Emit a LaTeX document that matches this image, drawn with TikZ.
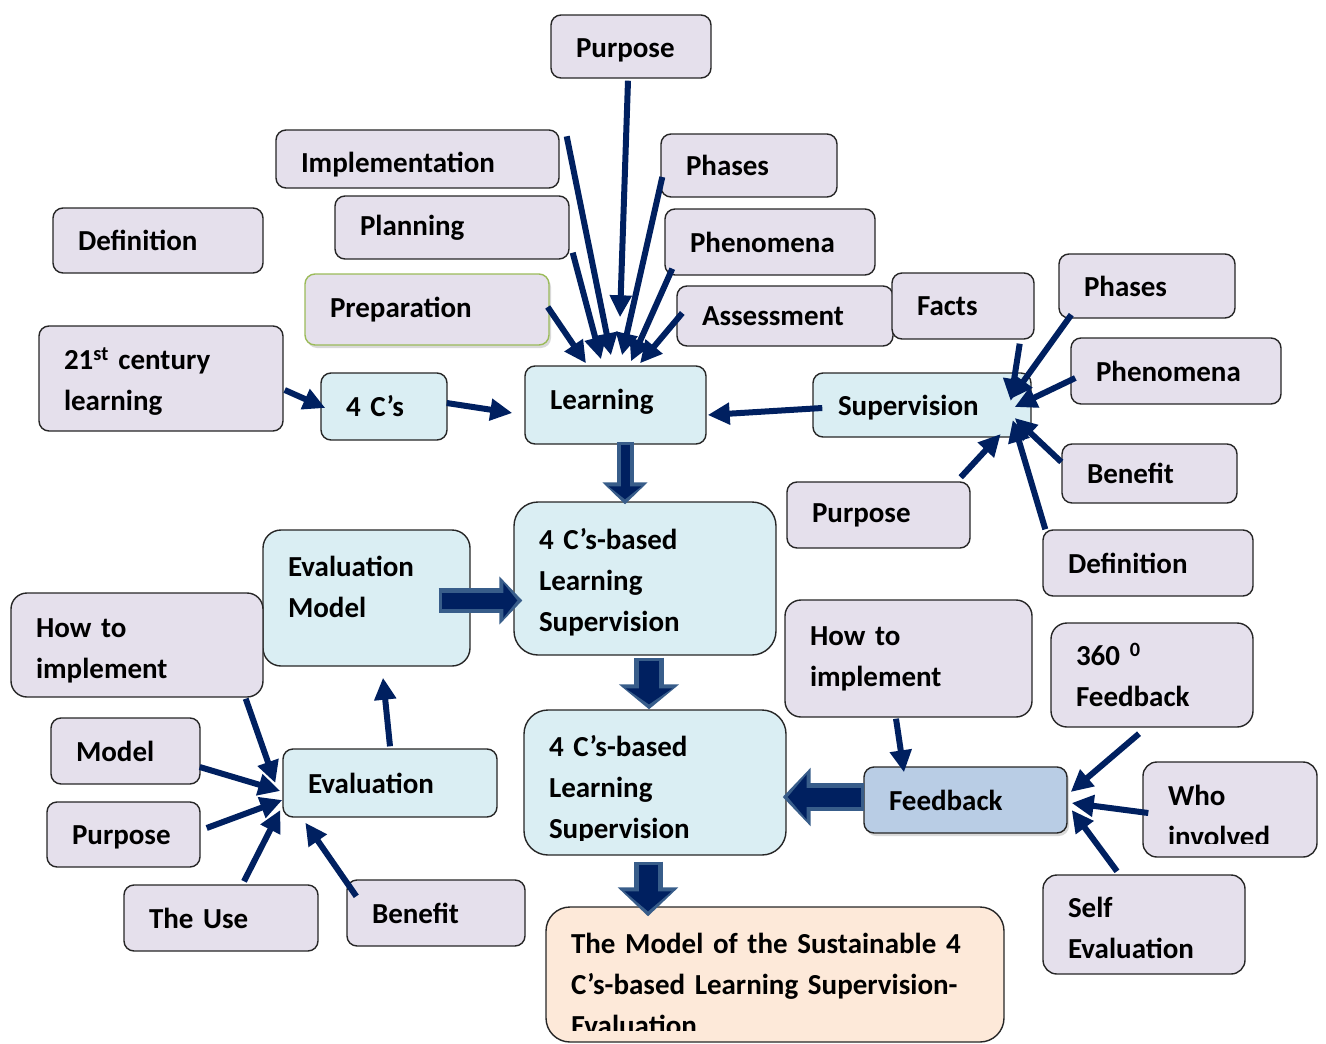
\documentclass[tikz,border=0pt]{standalone}
\usepackage{fontspec}
\setmainfont{Carlito}[WordSpace=0.75]
\usetikzlibrary{arrows.meta,calc,shadows}
\definecolor{navyb}{HTML}{002060}
\definecolor{steelb}{HTML}{385D8A}
\definecolor{lilac}{HTML}{E5E0EC}
\definecolor{paleblue}{HTML}{DAEEF3}
\definecolor{fbblue}{HTML}{B9CDE5}
\definecolor{peach}{HTML}{FDE9D9}
\definecolor{leaf}{HTML}{9BBB59}
\begin{document}
\begin{tikzpicture}[x=1pt, y=-1pt,
        txt/.style = {align=left, inner xsep=25pt, inner ysep=0pt, font=\fontsize{29}{41}\selectfont\bfseries},
        tbox/.style = {txt, draw=black!85, line width=1.4pt, rounded corners=10pt},
        lbox/.style = {tbox, fill=lilac},
        cbox/.style = {tbox, fill=paleblue},
        arr/.style = {draw=navyb, line width=6pt, -{Triangle[length=22pt,width=21pt]}},
        blk/.style n args = {6}{preaction={draw=steelb, line width=#1, shorten <=-3pt, shorten >=0pt, -{Triangle[length=#3,width=#4]}},
            draw=navyb, line width=#2, shorten >=5pt, -{Triangle[length=#5,width=#6]}}
    ]
    \useasboundingbox (0,0) rectangle (1326,1044);

    % top cluster
    \node[lbox, text width=110pt, minimum height=63pt] (purp1) at (631,46.5) {};
    \node[txt, text width=110pt, yshift=-4pt] (purp1txt) at (purp1) {Purpose};
    \node[lbox, text width=233pt, minimum height=58pt] (impl) at (417.5,159) {};
    \node[txt, text width=233pt, yshift=-6pt] (impltxt) at (impl) {Implementation};
    \node[lbox, text width=126pt, minimum height=63pt] (phas1) at (749,165.5) {Phases};
    \node[lbox, text width=160pt, minimum height=65pt] (def1) at (158,240.5) {Definition};
    \node[lbox, text width=184pt, minimum height=63pt] (plan) at (452,227.5) {Planning};
    \node[lbox, text width=160pt, minimum height=66pt] (phen1) at (770,242) {Phenomena};
    \node[lbox, draw=leaf, text width=194pt, minimum height=71pt,
        drop shadow={opacity=0.3, shadow xshift=2pt, shadow yshift=-3pt}] (prep) at (427,309.5) {Preparation};
    \node[lbox, text width=166pt, minimum height=60pt] (asse) at (785,316) {Assessment};
    \node[lbox, text width=92pt, minimum height=66pt] (facts) at (963,306) {Facts};
    \node[lbox, text width=126pt, minimum height=64pt] (phas2) at (1147,286) {Phases};
    \node[lbox, text width=160pt, minimum height=66pt] (phen2) at (1176,371) {Phenomena};

    % main row
    \node[lbox, text width=194pt, minimum height=105pt] (c21) at (161,378.5) {};
    \node[txt, text width=194pt, yshift=-3pt] (c21txt) at (c21) {21\textsuperscript{st} century\\learning};
    \node[cbox, text width=76pt, minimum height=67pt] (fourc) at (384,406.5) {4 C’s};
    \node[cbox, text width=131pt, minimum height=78pt] (learn) at (615.5,405) {};
    \node[txt, text width=131pt, yshift=3pt] (learntxt) at (learn) {Learning};
    \node[cbox, text width=168pt, minimum height=64pt] (superv) at (922,405) {};
    \node[txt, text width=168pt, yshift=-3pt] (supervtxt) at (superv) {Supervision};
    \node[lbox, text width=125pt, minimum height=59pt] (bene2) at (1149.5,473.5) {Benefit};
    \node[lbox, text width=133pt, minimum height=66pt] (purp2) at (878.5,515) {Purpose};
    \node[lbox, text width=160pt, minimum height=66pt] (def2) at (1148,563) {Definition};

    % middle
    \node[cbox, text width=157pt, minimum height=136pt, rounded corners=18pt] (evalm) at (366.5,598) {};
    \node[txt, text width=157pt, yshift=11pt] (evalmtxt) at (evalm) {Evaluation\\Model};
    \node[cbox, text width=212pt, minimum height=153pt, rounded corners=24pt] (mid) at (645,578.5) {};
    \node[txt, text width=212pt, yshift=-4pt] (midtxt) at (mid) {4 C’s-based\\Learning\\Supervision};
    \node[lbox, text width=202pt, minimum height=104pt, rounded corners=16pt] (how1) at (137,645) {};
    \node[txt, text width=202pt, yshift=-5.5pt] (how1txt) at (how1) {How to\\implement};
    \node[lbox, text width=197pt, minimum height=117pt, rounded corners=16pt] (how2) at (908.5,658.5) {How to\\implement};
    \node[lbox, text width=152pt, minimum height=104pt, rounded corners=16pt] (deg) at (1152,675) {360 \textsuperscript{0}\\Feedback};

    % bottom left
    \node[lbox, text width=99pt, minimum height=66pt] (model) at (125.5,751) {Model};
    \node[cbox, text width=164pt, minimum height=68pt] (eval) at (390,783) {Evaluation};
    \node[lbox, text width=103pt, minimum height=65pt] (purp3) at (123.5,834.5) {};
    \node[txt, text width=103pt, yshift=-3pt] (purp3txt) at (purp3) {Purpose};
    \node[lbox, text width=144pt, minimum height=66pt] (theuse) at (221,918) {The Use};
    \node[lbox, text width=128pt, minimum height=66pt] (bene3) at (436,913) {Benefit};

    % bottom right
    \node[cbox, text width=212pt, minimum height=145pt, rounded corners=24pt] (low) at (655,782.5) {};
    \begin{scope}
        \clip (low.north west) rectangle ($(low.south east)+(0,-15)$);
        \node[txt, text width=212pt, yshift=-7pt] (lowtxt) at (low) {4 C’s-based\\Learning\\Supervision};
    \end{scope}
    \node[tbox, fill=fbblue, text width=153pt, minimum height=66pt,
        drop shadow={opacity=0.3, shadow xshift=2pt, shadow yshift=-3pt}] (feed) at (965.5,800) {Feedback};
    \node[lbox, text width=124pt, minimum height=95pt, rounded corners=14pt] (who) at (1230,809.5) {};
    \begin{scope}
        \clip (who.north west) rectangle ($(who.south east)+(0,-14)$);
        \node[txt, text width=124pt, yshift=-6pt] (whotxt) at (who) {Who\\involved};
    \end{scope}
    \node[lbox, text width=152pt, minimum height=99pt, rounded corners=14pt] (self) at (1144,924.5) {};
    \node[txt, text width=152pt, yshift=-3.5pt] (selftxt) at (self) {Self\\Evaluation};
    \node[tbox, fill=peach, text width=408pt, minimum height=135pt, rounded corners=24pt] (final) at (775,974.5) {};
    \begin{scope}
        \clip (final.north west) rectangle ($(final.south east)+(0,-12)$);
        \node[txt, text width=408pt, yshift=-10pt] (fintxt) at (final) {The Model of the Sustainable 4\\C’s-based Learning Supervision-\\Evaluation};
    \end{scope}

    % arrows into Learning
    \draw[arr] ($(prep.east)+(-2,-2.5)$) -- ($(learn.north)+(-29.5,-2)$);
    \draw[arr] ($(plan.south east)+(3,-7)$) -- ($(learn.north)+(-14.5,-6)$);
    \draw[arr] ($(impl.north east)+(7,7)$) -- ($(learn.north)+(-4.5,-10)$);
    \draw[arr] ($(purp1.south)+(-3,2)$) -- ($(learn.north)+(4.5,-48)$);
    \draw[arr] ($(phas1.west)+(2,11.5)$) -- ($(learn.north)+(6.5,-10)$);
    \draw[arr] ($(phen1.south west)+(8,-7)$) -- ($(learn.north)+(15.5,-4)$);
    \draw[arr] ($(asse.west)+(6,-3)$) -- ($(learn.north)+(24.5,-2)$);
    \draw[arr] ($(c21.east)+(1,11.5)$) -- ($(fourc.west)+(5,1.5)$);
    \draw[arr] ($(fourc.east)+(-1,-3.5)$) -- ($(learn.west)+(-12,8)$);
    \draw[arr] ($(superv.west)+(10,3)$) -- ($(learn.east)+(1,10)$);

    % arrows into Supervision
    \draw[arr] ($(facts.south east)+(-15,4)$) -- ($(superv.east)+(-21,-4)$);
    \draw[arr] ($(phas2.south west)+(13,-4)$) -- ($(superv.east)+(-21,-6)$);
    \draw[arr] ($(phen2.west)+(5,7)$) -- ($(superv.east)+(-17,2)$);
    \draw[arr] ($(bene2.west)+(0,-11.5)$) -- ($(superv.east)+(-17,13)$);
    \draw[arr] ($(def2.north west)+(3,0)$) -- ($(superv.east)+(-19,15)$);
    \draw[arr] ($(purp2.north east)+(-10,-4)$) -- ($(superv.east)+(-31,29)$);

    % arrows into Evaluation
    \draw[arr] ($(how1.south east)+(-18,1)$) -- ($(eval.west)+(-7,0)$);
    \draw[arr] ($(model.east)+(-1,16)$) -- ($(eval.west)+(-2,8)$);
    \draw[arr] ($(purp3.east)+(6,-6.5)$) -- ($(eval.west)+(0,17)$);
    \draw[arr] ($(theuse.north)+(23,-3)$) -- ($(eval.west)+(-2,27)$);
    \draw[arr] ($(bene3.north west)+(10,17)$) -- ($(eval.south west)+(23,5)$);
    \draw[arr] ($(eval.north)+(0,-2)$) -- ($(evalm.south)+(16.5,11)$);

    % arrows into Feedback
    \draw[arr] ($(how2.south)+(-12.5,1)$) -- ($(feed.north)+(-61.5,6)$);
    \draw[arr] ($(deg.south)+(-13,6)$) -- ($(feed.east)+(3,-8)$);
    \draw[arr] ($(who.west)+(6,3.5)$) -- ($(feed.east)+(4,3)$);
    \draw[arr] ($(self.north)+(-27,-3)$) -- ($(feed.east)+(4,10)$);

    % block arrows
    \draw[blk={17pt}{9pt}{22pt}{44pt}{13pt}{32pt}] ($(learn.south)+(9.5,0)$) -- ($(mid.north)+(-20,3)$);
    \draw[blk={30pt}{20pt}{25pt}{59pt}{16pt}{46pt}] ($(mid.south)+(4,5)$) -- ($(low.north)+(-6,0)$);
    \draw[blk={29pt}{19pt}{29pt}{59pt}{20pt}{46pt}] ($(low.south)+(-7,9)$) -- ($(final.north)+(-127,10)$);
    \draw[blk={25pt}{16pt}{23pt}{47pt}{14pt}{34pt}] ($(evalm.east)+(-29,2.5)$) -- ($(mid.west)+(9,22)$);
    \draw[blk={28pt}{19pt}{28pt}{57pt}{19pt}{44pt}] ($(feed.west)+(-2,-3)$) -- ($(low.east)+(-4,14.5)$);
\end{tikzpicture}
\end{document}
